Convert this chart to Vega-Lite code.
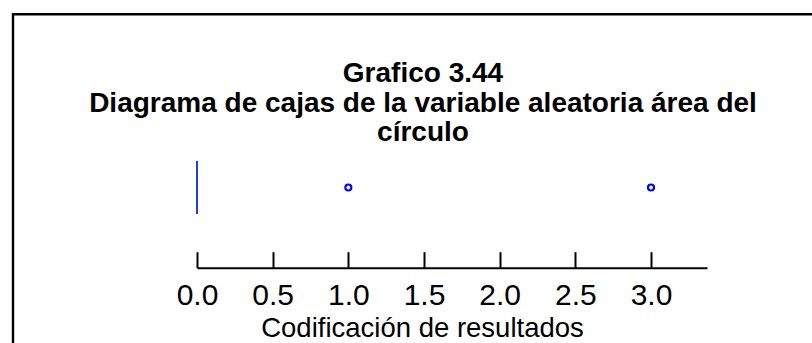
{
  "$schema": "https://vega.github.io/schema/vega-lite/v6.json",
  "autosize": "none",
  "width": 820,
  "height": 346.4,
  "padding": {"left": 13, "top": 14.3, "right": -21, "bottom": -17.7},
  "background": "white",
  "view": {"stroke": "black", "strokeWidth": 2.4},
  "title": {
    "text": ["Grafico 3.44", "Diagrama de cajas de la variable aleatoria área del", "círculo"],
    "anchor": "middle",
    "frame": "group",
    "font": "Liberation Sans",
    "fontSize": 28,
    "fontWeight": "bold",
    "color": "black",
    "lineHeight": 29.5,
    "baseline": "alphabetic",
    "offset": -155
  },
  "data": {
    "values": [
      {"codigo": 0}, {"codigo": 0}, {"codigo": 0}, {"codigo": 0}, {"codigo": 0},
      {"codigo": 0}, {"codigo": 0}, {"codigo": 0}, {"codigo": 0}, {"codigo": 0},
      {"codigo": 0}, {"codigo": 0}, {"codigo": 0}, {"codigo": 0}, {"codigo": 0},
      {"codigo": 0}, {"codigo": 0}, {"codigo": 0}, {"codigo": 1}, {"codigo": 3}
    ]
  },
  "mark": {
    "type": "boxplot",
    "extent": 1.5,
    "size": 53,
    "color": "blue",
    "opacity": 1,
    "box": {"fill": "blue", "stroke": "blue", "strokeWidth": 2, "opacity": 1},
    "median": {"color": "blue", "strokeWidth": 2, "opacity": 1},
    "rule": {"color": "blue", "strokeWidth": 2},
    "ticks": false,
    "outliers": {"shape": "circle", "filled": false, "stroke": "blue", "strokeWidth": 2.2, "size": 36, "opacity": 1, "strokeOpacity": 1},
    "tooltip": false
  },
  "encoding": {
    "x": {
      "field": "codigo",
      "type": "quantitative",
      "scale": {"domain": [0, 3.37], "range": [184, 694], "nice": false, "zero": false},
      "axis": {
        "title": "Codificación de resultados",
        "values": [0, 0.5, 1, 1.5, 2, 2.5, 3],
        "format": ".1f",
        "grid": false,
        "offset": -93,
        "domainColor": "black",
        "domainWidth": 2,
        "tickColor": "black",
        "tickWidth": 2,
        "tickSize": -16,
        "labelFont": "Liberation Sans",
        "labelFontSize": 30,
        "labelColor": "black",
        "labelPadding": 29,
        "labelFlush": false,
        "labelOverlap": false,
        "titleFont": "Liberation Sans",
        "titleFontSize": 27.5,
        "titleFontWeight": "normal",
        "titleColor": "black",
        "titleBaseline": "alphabetic",
        "titleX": 409,
        "titleY": 69
      }
    }
  }
}
